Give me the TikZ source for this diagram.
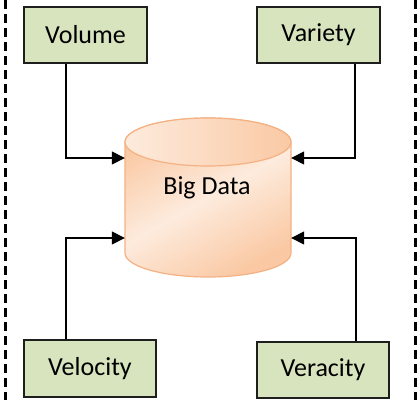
\documentclass[tikz,border=0pt]{standalone}
\usepackage{fontspec}
\setmainfont{Carlito}
\usepackage{xcolor}
\usetikzlibrary{arrows.meta}
\definecolor{boxfill}{HTML}{D7E4BD}
\definecolor{boxline}{HTML}{1E1E1E}
\definecolor{peachlt}{HTML}{FDEBDD}
\definecolor{peach}{HTML}{FAC9A4}
\definecolor{peachdk}{HTML}{F4B183}

\begin{document}
\begin{tikzpicture}[x=1pt,y=1pt,>={Triangle[length=13pt,width=13pt]},
  vbox/.style={draw=boxline,line width=1.8pt,fill=boxfill,inner sep=0pt,
    minimum width=123pt,minimum height=56pt,font=\fontsize{26}{30}\selectfont},
  link/.style={->,line width=1.6pt}]
\useasboundingbox (0,0) rectangle (419,400);
% dashed frame sides
\draw[line width=3pt,dash pattern=on 9pt off 5pt] (5,400) -- (5,0);
\draw[line width=3pt,dash pattern=on 9pt off 5pt] (415,400) -- (415,0);
% the four V's
\node[vbox] (volume) at (85.5,365) {Volume};
\node[vbox] (variety) at (318.5,365) {Variety};
\node[vbox,minimum width=132pt,minimum height=57pt] (velocity) at (90,31.5) {Velocity};
\node[vbox,minimum width=132pt] (veracity) at (323,30) {Veracity};
% cylinder
\node[inner sep=0pt,minimum width=166pt,minimum height=159pt] (bigdata) at (208,202.5) {};
\shade[left color=peach,right color=peach,middle color=peachlt,shading angle=30,draw=peachdk,line width=1.2pt]
  (125,258) -- (125,147) arc (180:360:83 and 24) -- (291,258) arc (0:180:83 and 24) -- cycle;
\shade[left color=peachlt,right color=peach,draw=peachdk,line width=1.2pt]
  (208,258) ellipse (83 and 24);
\node[font=\fontsize{26}{30}\selectfont] (bdlabel) at (207,212) {Big Data};
% connectors
\draw[link] ([xshift=-19.5pt]volume.south) |- ([yshift=39.5pt]bigdata.west);
\draw[link] ([xshift=36.5pt]variety.south) |- ([yshift=39.5pt]bigdata.east);
\draw[link] ([xshift=-24pt]velocity.north) |- ([yshift=-40.5pt]bigdata.west);
\draw[link] ([xshift=33pt]veracity.north) |- ([yshift=-40.5pt]bigdata.east);
\end{tikzpicture}
\end{document}
